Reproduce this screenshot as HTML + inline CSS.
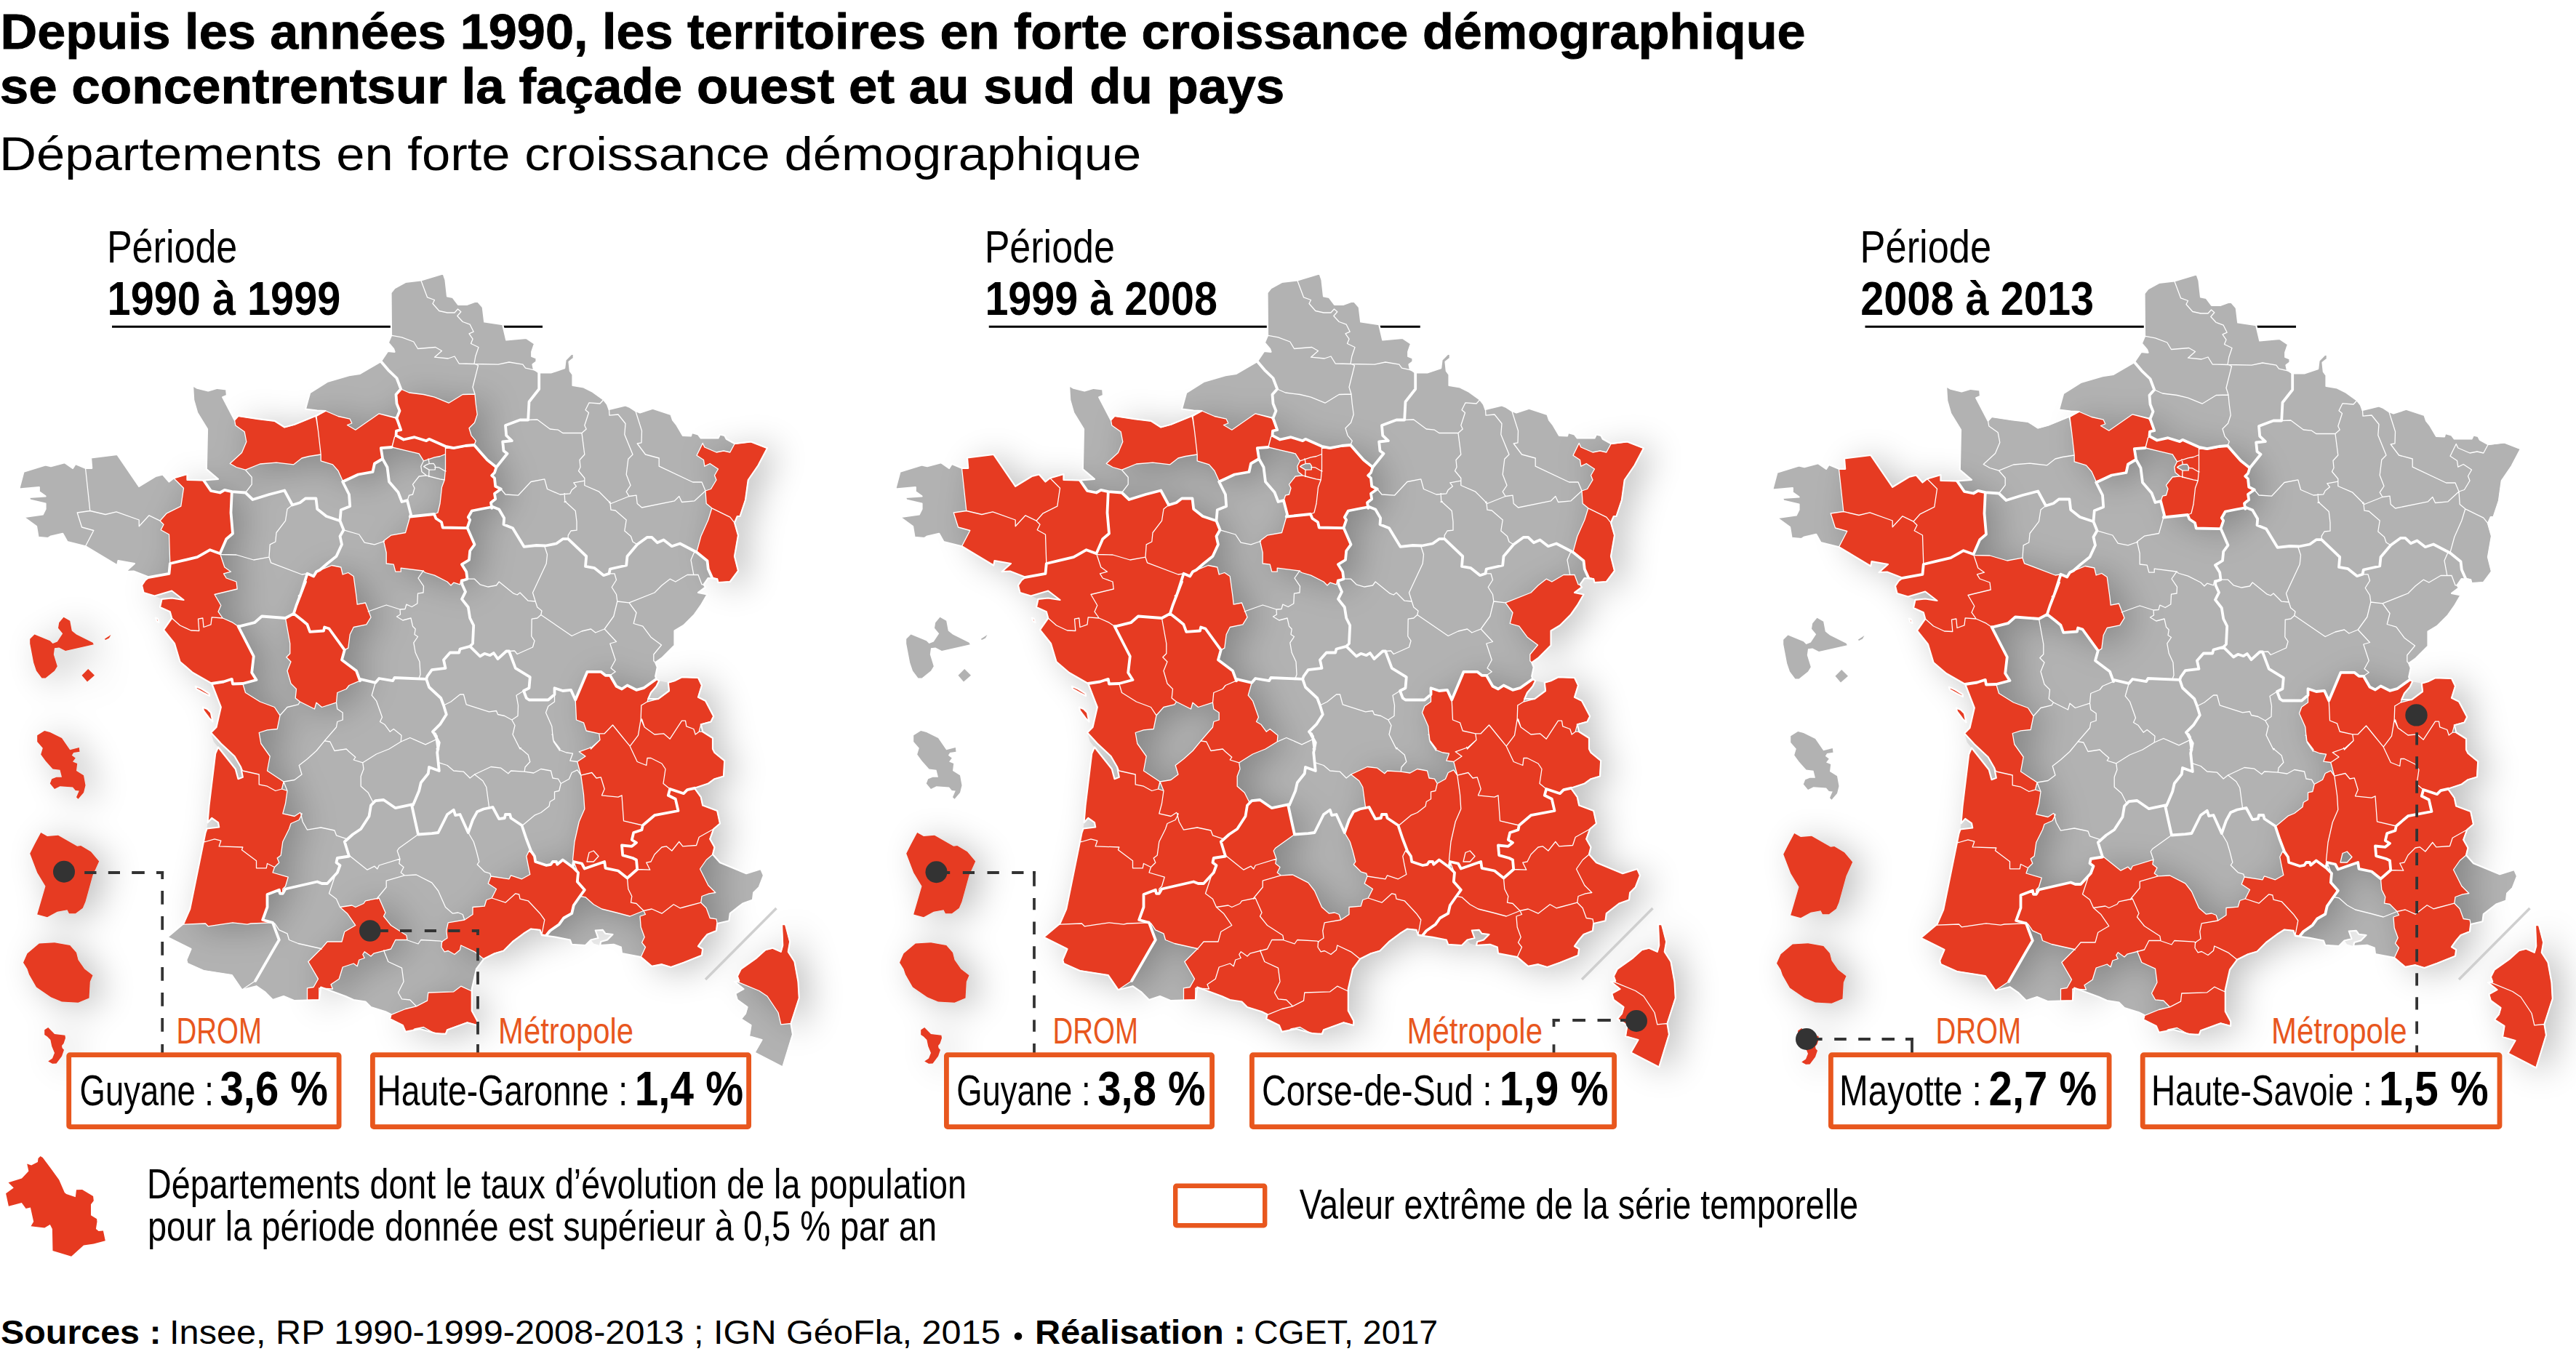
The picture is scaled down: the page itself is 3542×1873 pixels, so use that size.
<!DOCTYPE html>
<html lang="fr"><head><meta charset="utf-8"><title>Départements en forte croissance démographique</title>
<style>html,body{margin:0;padding:0;background:#fff}svg{display:block}text{font-family:"Liberation Sans",sans-serif}</style>
</head><body>
<svg width="3542" height="1873" viewBox="0 0 3542 1873">
<defs>
<filter id="sh2" x="-5%" y="-5%" width="115%" height="115%"><feGaussianBlur in="SourceAlpha" stdDeviation="24"/><feOffset dx="15" dy="6"/><feComponentTransfer><feFuncA type="linear" slope="0.25"/></feComponentTransfer><feMerge><feMergeNode/><feMergeNode in="SourceGraphic"/></feMerge></filter>

<path id="land" d="M212.5,819.5 236.2,812.5 252.5,825 236.2,822.5 222.5,823.8 220,835 233.8,841.2 236.2,850 225,866.2 240,885 247.5,910 265,925 291.2,940 303.8,972.5 297.5,1000 290,1007.5 303.8,1022.5 322.5,1040 331.2,1055 333.8,1068.8 327.5,1071.2 323.8,1057.5 300,1027.5 296.2,1036.2 287.5,1107.5 285.5,1131.2 291.2,1125 300,1131.2 301.2,1137.5 284.5,1139.5 282.5,1145 261.2,1250 252.5,1270 230,1288.8 262.5,1305 256.2,1320 257.5,1325 280,1335 318.8,1341.2 332.5,1361.2 352.5,1356.2 363.8,1363.8 375,1375 390,1370 405,1376.2 438.8,1375 441.2,1357.5 475,1370 486.2,1375 502.5,1377.5 510,1385 530,1391.2 537.5,1395 536.2,1401.2 553.8,1410 557.5,1418.8 577.5,1415 600,1421.2 613,1422 615,1416.2 642.5,1406.2 656.2,1410 656.2,1403.8 648.8,1390 648.8,1360 655,1332.5 665,1318.8 680,1311.2 692.5,1307.5 705,1295 720,1283.8 730,1277.5 742.5,1278.8 745,1286.2 765,1288.8 783.8,1292.5 786.2,1298.8 805,1300 812.5,1292.5 822.5,1290 818.8,1279.5 828.8,1278.8 832.5,1283.8 842.5,1285 835,1292.5 826.2,1295 825,1300 843.8,1298.8 853.8,1302.5 855,1311.2 881.2,1316.2 896.2,1328.8 910,1326.2 922.5,1330 940,1323.8 965,1313.8 966.2,1305 960,1301.2 966.2,1292.5 972.5,1285 985,1280 986.2,1270 1002.5,1266.2 1003.8,1256.2 1021.2,1242.5 1035,1237.5 1036.2,1227.5 1043.8,1220 1050,1203.8 1046.2,1195 1026.2,1201.2 990,1186.2 980,1175 982.5,1165 976.2,1153.8 981.2,1140 990,1132.5 986.2,1115 966.2,1107.5 963.8,1096.2 955,1083.8 973.8,1077.5 982.5,1071.2 995,1067.5 996.2,1046.2 982.5,1035 980,1030 980,1015 966.2,1006.2 963.8,996.2 977.5,992.5 981.2,985 970,963.8 960,958.8 965,942.5 960,932 937.5,931.2 927.5,936.2 918.8,938.8 920,950 905,961.2 891.2,961.2 895,952.5 902.5,943.8 906.2,936.2 902.5,933.8 901.2,930 903.8,917.5 901.2,911.2 910,905 927.5,887.5 927.5,867.5 940,860 955,845 963.8,832.5 972.5,817.5 960,815 970,807.5 967.5,803.8 973.8,795 986.2,796.2 987.5,801.2 1003.8,800 1015,785 1010,765 1015,736.2 1010,718.8 1013.8,710 1017.5,710 1025,687.5 1028.8,660 1042.5,640 1055,616.2 1032.5,607.5 1010,610 998.8,603.8 996.2,598.8 990,597.5 987.5,602.5 963.8,602.5 960,597.5 951.2,595 950,599.5 938.8,598.8 930,583.8 925,577.5 922.5,570 897.5,561.8 880,567.5 873.8,565 866.2,560 860,557.5 837.5,563 835,556.2 830,549.5 815,538.8 802.5,532.5 787.5,530 787.5,515 783.8,510 782.5,497.5 788.8,492.5 788.8,487.5 786.2,486.2 777.5,495 776.2,506.2 757.5,512.5 741.2,512.5 733.8,507.5 732.5,501.2 737.5,497.5 737.5,492.5 731.2,490 731.2,483.8 735,472.5 723.8,465 696.2,467.5 691.2,446.2 666.2,442.5 663.8,422.5 656.2,413.8 642.5,418.8 630,418.8 622.5,408.8 615,407.5 612.5,385 609.5,376.2 578.8,385.5 557.5,388 542.5,396.2 537.5,402.5 538,461.2 533.8,471.2 541.2,480 542.5,483.8 533.2,483 523.8,497 495,513.8 480,516.2 450,525 426.2,540 420,562.5 436.2,564.5 447.5,565 433.8,572 405,583.8 391.2,587.5 377.5,578.8 355,576.2 327.5,572 322.5,577.5 306.2,546.2 312,543.8 311.2,535.5 298.8,533.8 286.2,537.5 271.2,533.8 265,530 266.2,550 271.2,567.5 285,590 283.8,645 300,658.8 280,660.5 257.5,660 257.5,652 238.8,657.5 232.5,662.5 223.8,652.5 213.8,655 191.2,668.8 161.2,625 125,629.5 126.2,643.8 117.5,643.8 103.8,638 100,643.8 88.8,636.2 70,641.2 62.5,639.5 32.5,648.8 26.2,672.5 53.8,670 53.8,676.2 62.5,682.5 40,683.8 41.2,687.5 62.5,692.5 62.5,700 58.8,707.5 32.5,711.2 50,723.8 52.5,738.8 66.2,740 70,737.5 86.2,733.8 92.5,745 117.5,751.2 161.2,777.5 162.5,771.2 185,775 172.5,786.2 183.8,785.5 205,793.8 200,797.5 195,805 197.5,815ZM1076.2,1300 1073.8,1308.8 1062.5,1303.8 1052.5,1306.2 1040,1317.5 1018.8,1332.5 1013.8,1342.5 1016.2,1348.8 1010,1350 1022.5,1360 1011.2,1366.2 1013.8,1375 1027.5,1385 1025,1393.8 1018.8,1401.2 1032.5,1410 1030,1425 1047.5,1430 1037.5,1447.5 1076.2,1467.5 1090,1422.5 1087.5,1407.5 1098.8,1372.5 1097.5,1350 1092.5,1322.5 1083.8,1308.8 1086.2,1295 1080,1271.2 1075,1271.2ZM268.8,943.8 277.5,947.5 287.5,953.8 288,957 280,953 270,947.5ZM278.8,972.5 285,975 290,980 292.5,992.5 287.5,987.5 280,977.5ZM213.8,849.5 217,850.8 218.5,856 215.5,854.5Z"/>
<clipPath id="landclip"><use href="#land"/></clipPath>
<path id="d971" d="M41.2,878.8 47.5,872.5 68.8,881.2 72.5,885 78.8,882.5 86.2,871.2 80,863.8 81.2,856.2 87.5,848.8 96.2,853.8 98.8,867.5 105,872.5 127.5,883.8 128.8,886.2 90,895 81.2,890.5 75,891.2 73.8,900 78.8,916.2 75,922.5 62.5,932.5 57.5,932.5 50,922.5 46.2,911.2 41.2,885Z"/>
<path id="d971b" d="M112.5,928.8 121.2,920 130,928.8 120,937.5Z"/>
<path id="d971c" d="M143.8,878.8 152.5,873 150,877.5 145,880Z"/>
<path id="d972" d="M51.2,1011.2 61.2,1005 68.8,1007 85,1015 96.2,1031.2 108.8,1028 109.5,1033.8 101.2,1035 98.8,1038.8 103.8,1042.5 100,1047.5 106.2,1050 105,1060 115,1066.2 117.5,1080 115,1090 107.5,1098.8 105,1096.2 108.8,1087.5 103.8,1087 100,1082.5 82.5,1081.2 75,1085 68.8,1077.5 71.2,1071.2 77.5,1068.8 85,1068.8 82.5,1058.8 72.5,1057.5 62.5,1046.2 56.2,1037.5 58.8,1028.8 51.2,1020Z"/>
<path id="d973" d="M56.2,1145 65,1150 80,1148.8 106.2,1163.8 111.2,1163 125,1171.2 136.2,1184.5 127.5,1203.8 117.5,1240 113.8,1248.8 103.8,1256.2 95,1256.2 92.5,1251.2 78.8,1253.8 65,1261.2 51.2,1257.5 62.5,1218.8 51.2,1200 41.2,1173.8 47.5,1161.2Z"/>
<path id="d974" d="M53.8,1297.5 75,1296.2 96.2,1300 105,1310 107.5,1320 116.2,1332.5 127.5,1341.2 123.8,1350 122.5,1372.5 107.5,1378.8 85,1377.5 70,1371.2 50,1357.5 40,1340 37.5,1332.5 32,1323.8 37.5,1311.2Z"/>
<path id="d976" d="M61.2,1416.2 66.2,1413 75,1422 89.4,1423.8 90,1427.5 87.5,1435 85,1438 85.6,1441.2 88,1443.8 85,1452.5 77.5,1462.5 72,1462.8 66.2,1459.4 72,1455.6 75,1448 71.2,1438.8 69.4,1430 65,1425.6 61.2,1423Z"/>
<path id="water" d="M906.2,936.2 918.8,938.8 920,950 915,953.8 905,961.2 891.2,961.2 895,952.5 902.5,943.8ZM290,1007.5 303.8,1022.5 322.5,1040 331.2,1055 333.8,1068.8 327.5,1071.2 323.8,1057.5 312.5,1043.8 300,1027.5 293.8,1020ZM212.5,819.5 236.2,812.5 252.5,825 236.2,822.5 222.5,823.8ZM284.5,1139.5 301.2,1137.5 300,1131.2 291.2,1125 285.5,1131.2ZM825,1300 826.2,1295 835,1292.5 842.5,1285 832.5,1283.8 828.8,1278.8 818.8,1279.5 822.5,1290 812.5,1292.5 816.2,1297.5Z"/>
<path id="thin" d="M551.2,535 562.5,540 582.5,542.5 597.5,546.2 617,554.2 636.2,542.5 653,542 654.2,555 656.2,570 652.5,581.2 645,588.8 648,598.8 654.2,606.2 652,612 640,613 623.8,616.2 612.5,613.8 590,603.8 586.2,606.2 570,601.2 555,604.5 544.5,598.8 545,592.5 551.2,591.2 545.5,575 549.5,565 545.5,555 544.5,542.5 551.2,535M544.5,598.8 555,604.5 570,601.2 586.2,606.2 590,603.8 612.5,613.8 612.5,624.5 605,627.5 597.5,628.8 582.5,633.8 576.2,623.8 555,618.8 538.8,615 542.5,601.2 544.5,598.8M966.2,609.5 968.8,615 985,622 995,620 1003.8,622 1010,610.5 1032.5,607.5 1055,616.2 1042.5,640 1028.8,660 1025,687.5 1017.5,710 1010,718.8 1003.8,711.2 978.8,698.8 971.2,692.5 970,675 977.5,672.5 985,660 982.5,653.8 987.5,645 976.2,637.5 968.8,641.2 967.5,632.5 958,626.2 966.2,609.5M978.8,698.8 1003.8,711.2 1010,718.8 1015,736.2 1010,765 1015,785 1003.8,800 987.5,801.2 986.2,796.2 978.8,793.8 973.8,782.5 972.5,771.2 958,758.8 963.8,737.5 973.8,715 978.8,698.8M612.5,616.2 623.8,616.8 640,613.8 652,612 660,621.2 670,632.5 681.2,642.5 680,650 676.2,653.8 680,657.5 681.2,668.8 688.8,672.5 680,678.8 681.2,686.2 675,691.2 676.2,698.8 677.5,697 663.8,699.5 648.8,702.5 643.8,711.2 646.2,715 642.5,725.8 608.8,725.5 607,718 599.5,713 597,707 602,705 605,692.5 607.5,670 611.2,660 612.5,645 612.5,616.2M563.8,710.5 597,707 599.5,713 607,718 608.8,725.5 642.5,726.2 652.5,748.8 646.2,757.5 645,770 635,776.2 641.2,786.2 642.5,796.2 633.8,797.5 632.5,803.8 623.8,801.2 620,805 615,800 597.5,791.2 585,787.5 581.2,785 551.2,781.2 551.2,786.2 543.8,786.2 541.2,776.2 531.2,775 531.2,760 527.5,743.8 537.5,736.2 557.5,732.5 563.8,710.5M807.5,923.8 826.2,923.8 832.5,928.8 838.8,928.8 847.5,943.8 855,947.5 862.5,942.5 875,948.8 885,946.2 902.5,933.8 906.2,936.2 902.5,943.8 895,952.5 891.2,961.2 890,965 881.8,970 881.2,988.8 877.5,1011.2 866.2,1026.2 842.5,997 831.2,1008.8 823.8,1008.8 806.2,1005 802.5,993.8 792.5,990 791.2,962.5 807.5,923.8M881.8,970 890,965 905,961.2 915,953.8 920,950 918.8,938.8 927.5,936.2 937.5,931.2 960,932 965,942.5 960,958.8 970,963.8 981.2,985 977.5,992.5 963.8,996.2 961.2,1006.2 956.2,1010 953.8,1002.5 943.8,998.8 942.5,991.2 937.5,991.2 921.2,1016.2 912.5,1008.8 900,1010 886.2,1000 882.5,988.8 881.2,988.8 881.8,970M823.8,1008.8 825,1017.5 813.8,1027.5 796.2,1033.8 805,1040 793.8,1047.5 798.8,1066.2 813.8,1062.5 820,1070 826.2,1068.8 831.2,1085 827.5,1093.8 850,1096.2 855,1093.8 857.5,1128.8 883.8,1135 900,1121.2 932.5,1115 928.8,1098.8 918.8,1093.8 921.2,1085 912,1077.5 915,1057.5 910,1050 895,1042.5 890,1042.5 888.8,1052.5 876.2,1047.5 866.2,1026.2 855,1012.5 842.5,997 831.2,1008.8 823.8,1008.8M881.2,988.8 886.2,1000 900,1010 912.5,1008.8 921.2,1016.2 937.5,991.2 942.5,991.2 943.8,998.8 953.8,1002.5 956.2,1010 961.2,1006.2 966.2,1006.2 980,1015 982.5,1035 996.2,1046.2 995,1067.5 982.5,1071.2 973.8,1077.5 955,1083.8 945,1086.2 940,1091.2 921.2,1085 912,1077.5 915,1057.5 910,1050 895,1042.5 890,1042.5 888.8,1052.5 876.2,1047.5 866.2,1026.2 877.5,1011.2 881.2,988.8M921.2,1085 940,1091.2 945,1086.2 955,1083.8 963.8,1096.2 966.2,1107.5 986.2,1115 990,1132.5 981.2,1140 961.2,1151.2 957.5,1162.5 938.8,1163.8 933.8,1157.5 923.8,1170 916.2,1163.8 910,1165 900,1175 895,1185 888.8,1186.2 893.8,1196.2 876.2,1195.5 875,1182.5 870,1180 856.2,1176.2 855,1162.5 868.8,1163.8 875,1158.8 868.8,1155 871.2,1145 882.5,1141.2 883.8,1135 900,1121.2 932.5,1115 928.8,1098.8 918.8,1093.8 921.2,1085M798.8,1066.2 813.8,1062.5 820,1070 826.2,1068.8 831.2,1085 827.5,1093.8 850,1096.2 855,1093.8 857.5,1128.8 883.8,1135 882.5,1141.2 871.2,1145 868.8,1155 875,1158.8 868.8,1163.8 855,1162.5 856.2,1176.2 870,1180 875,1182.5 876.2,1195.5 862.5,1207.5 850,1197.5 832.5,1193.8 831.2,1185 803.8,1194.5 800,1187.5 788.8,1185 787.5,1182.5 790,1157.5 796.2,1130 803.8,1112.5 802.5,1092.5 798.8,1066.2M788.8,1185 800,1187.5 803.8,1194.5 831.2,1185 832.5,1193.8 850,1197.5 862.5,1207.5 863.8,1222.5 868.8,1232.5 867.5,1241.2 875,1242.5 885,1252.5 866.2,1260 847.5,1255 827.5,1250 816.2,1243.8 805,1233.8 797.5,1232.5 803.8,1223.8 795,1212.5 793.8,1197.5 788.8,1185M876.2,1195.5 893.8,1196.2 888.8,1186.2 895,1185 900,1175 910,1165 916.2,1163.8 923.8,1170 933.8,1157.5 938.8,1163.8 957.5,1162.5 961.2,1151.2 981.2,1140 976.2,1153.8 982.5,1165 980,1175 971.2,1182.5 962.5,1195 973.8,1217.5 983.8,1227.5 975,1228.8 965,1232.5 963.8,1241.2 940,1247.5 935,1248.8 926.2,1243.8 910,1256.2 896.2,1250 885,1252.5 875,1242.5 867.5,1241.2 868.8,1232.5 863.8,1222.5 862.5,1207.5 876.2,1195.5M885,1252.5 896.2,1250 910,1256.2 926.2,1243.8 935,1248.8 940,1247.5 963.8,1241.2 971.2,1248.8 976.2,1262.5 985,1263.8 986.2,1270 985,1280 972.5,1285 966.2,1292.5 960,1301.2 966.2,1305 965,1313.8 940,1323.8 922.5,1330 910,1326.2 896.2,1328.8 881.2,1316.2 887.5,1302.5 882.5,1296.2 886.2,1288.8 881.2,1275 880,1260 887.5,1257.5 885,1252.5M727.5,1170 735,1177.5 736.2,1185 751.2,1190 757.5,1188.8 760,1185 765,1185 766.2,1188.8 773.8,1182.5 787.5,1192.5 795,1200 793.8,1212.5 803.8,1223.8 797.5,1232.5 788.8,1245 786.2,1256.2 775,1262.5 768.8,1271.2 756.2,1280 751.2,1286.2 745,1285 748.8,1265 742.5,1256.2 726.2,1238.8 715,1236.2 713.8,1230 708.8,1228.8 695,1241.2 676.2,1235 682.5,1222.5 671.2,1215 675,1205 700,1208.8 702.5,1203.8 717.5,1208.8 728.8,1202.5 726.2,1190 723.8,1177.5 727.5,1170M676.2,1235 695,1241.2 708.8,1228.8 713.8,1230 715,1236.2 726.2,1238.8 742.5,1256.2 748.8,1265 745,1285 742.5,1278.8 730,1277.5 720,1283.8 705,1295 692.5,1307.5 680,1311.2 665,1318.8 658.8,1313.8 652.5,1308.8 633.8,1300 632.5,1306.2 625,1312.5 616.2,1307.5 611.2,1308.8 607,1302.5 607.5,1295 615,1290 613.8,1280 616.2,1268.8 638.8,1265 650,1257.5 650,1247.5 666.2,1246.2 668.8,1237.5 676.2,1235M322.5,577.5 327.5,572 355,576.2 377.5,578.8 391.2,587.5 405,583.8 433.8,572 435,576.2 437.5,592.5 441.2,625 425,627.5 415,630 403.8,638.8 380,636.2 357.5,638 337.5,646.2 325,642.5 316.2,637.5 332.5,622.5 338.8,607.5 336.2,593.8 323.8,585 322.5,577.5M435,572.5 447.5,565 465,572.5 481.2,576.2 483.8,582 477.5,584.5 488.8,591.2 521.2,568.8 542.5,573.8 545.5,577.5 551,591 545,592.5 544.5,599 542.5,601 539,615 524,616 526,631 515,637.5 512.5,649 492.5,652.5 471.2,661.2 465,647.5 457.5,638.8 441.2,633.8 441.2,625 437.5,592.5 435,572.5M238.8,657.5 257.5,652 257.5,660 280,660.5 290,675 302.5,677.5 308.8,673.8 318.8,676.2 317.5,705 320,733.8 311.2,741.2 302.5,761.2 288.8,756.2 271.2,766.2 250,771.2 233.8,775 232.5,735 221.2,728.8 225,721.2 220,716.2 228.8,706.2 248.8,696.2 252.5,671.2 238.8,657.5M233.8,775 250,771.2 271.2,766.2 288.8,756.2 302.5,761.2 303.8,765 308.8,780 317.5,786.2 307.5,788.8 311.2,795 325,800 326.2,810 295,817.5 303.8,832.5 300,841.2 306.2,850 291.2,848.8 290,858.8 280,862.5 278.8,850 272.5,851.2 273.8,867.5 262.5,867 247.5,860 236.2,850 212.5,850 175,825 175,785 205,793.8 232.5,788.8 233.8,775M236.2,850 247.5,860 262.5,867 273.8,867.5 272.5,851.2 278.8,850 280,862.5 290,858.8 291.2,848.8 306.2,850 320,856.2 327.5,861.2 348.8,902.5 346.2,925 352.5,935 333.8,940 320,940.5 318.8,933.8 307.5,937.5 291.2,940 262.5,930 237.5,910 220,866.2 236.2,850M291.2,940 307.5,937.5 318.8,933.8 320,940.5 333.8,940 337.5,952.5 357.5,965 377.5,972.5 385,983.8 381.2,1002.5 367.5,1003.8 356.2,1007.5 358.8,1022.5 371.2,1040 367.5,1060 390,1075 387.5,1085 378.8,1087.5 367.5,1081.2 356.2,1078.8 356.2,1065 333.8,1060 331.2,1055 322.5,1040 303.8,1022.5 290,1007.5 275,1000 262.5,950 275,935 291.2,940M392.5,850 403.8,843.8 415,852.5 422.5,858.8 426.2,868.8 445,867.5 446.2,862.5 452.5,864.5 473.8,893.8 470,907.5 490,922.5 495,936.2 480,942.5 476.2,947.5 463.8,952.5 462.5,966.2 442.5,972.5 435,966.2 432.5,975 412.5,965 406.2,960 407.5,947.5 400,940 395,922.5 400,910 393.8,903.8 398.8,898.8 398.8,885 392.5,850M422.5,788.8 431.2,792.5 435,786.2 456.2,777.5 468.8,780 471.2,790 478.8,787.5 486.2,792.5 490,820 491.2,831.2 502.5,829 510,848.8 503.8,858.8 486.2,862.5 481.2,872.5 478.8,891.2 473.8,893.8 452.5,864.5 446.2,862.5 445,867.5 426.2,868.8 422.5,858.8 415,852.5 403.8,843.8 407.5,832.5 420,800 422.5,788.8M290,1007.5 303.8,1022.5 322.5,1040 331.2,1055 333.8,1060 356.2,1065 356.2,1078.8 367.5,1081.2 378.8,1087.5 387.5,1085 395,1087.5 392.5,1105 388.8,1118.8 405,1122.5 412.5,1117.5 415,1120 411.2,1127.5 400,1132.5 397.5,1140 388.8,1157.5 386.2,1176.2 381.2,1180 383.8,1186.2 377.5,1192.5 367.5,1187.5 366.2,1193.8 352.5,1193.8 352.5,1183.8 332.5,1168.8 333.8,1165 301.2,1163.8 303.8,1156.2 295,1153.8 282.5,1157.5 262.5,1157.5 270,1007.5 290,1007.5M282.5,1157.5 295,1153.8 303.8,1156.2 301.2,1163.8 333.8,1165 332.5,1168.8 352.5,1183.8 352.5,1193.8 366.2,1193.8 367.5,1187.5 377.5,1192.5 375,1200 396.2,1206.2 392.5,1218.8 388.8,1222.5 388.8,1228.8 385,1228.8 383.8,1223.8 367.5,1230 367.5,1247.5 361.2,1265 375,1268.8 345,1270 340,1271.2 320,1268.8 286.2,1273.8 282.5,1270 252.5,1271.2 240,1275 250,1195 270,1157.5 282.5,1157.5M467.5,1247.5 483.8,1245 488.8,1247.5 500,1242.5 502.5,1238.8 521.2,1235 530,1255 527.5,1260 537.5,1272.5 558.8,1286.2 560,1292.5 543.8,1292.5 537.5,1305 513.8,1311.2 510,1315 501.2,1308.8 498.8,1312.5 501.2,1317.5 493.8,1320 491.2,1328.8 486.2,1325 471.2,1330 466.2,1346.2 455,1353.8 457.5,1360 438.8,1358.8 438.8,1375.5 422.5,1375.5 422.5,1358.8 431.2,1357.5 437.5,1346.2 423.8,1322.5 442.5,1303.8 450,1295 470,1295 473.8,1281.2 488.8,1272.5 477.5,1256.2 467.5,1247.5M240,1275 252.5,1271.2 282.5,1270 286.2,1273.8 320,1268.8 340,1271.2 345,1270 375,1268.8 383.8,1292.5 375,1307.5 351.2,1348.8 332.5,1361.2 318.8,1341.2 280,1335 257.5,1325 256.2,1320 262.5,1305 230,1288.8 240,1275M536.2,1396.2 557.5,1387.5 572.5,1383.8 587.5,1376.2 588.8,1365 623.8,1363.8 633.8,1356.2 647.5,1362.5 670,1362.5 670,1410 656.2,1410 642.5,1406.2 615,1416.2 612.5,1421.2 600,1422.5 582.5,1412.5 570,1415 565,1420 555,1420 536.2,1402.5 536.2,1396.2M1075,1271.2 1080,1271.2 1086.2,1295 1083.8,1308.8 1092.5,1322.5 1097.5,1350 1098.8,1372.5 1090,1400 1087.5,1407.5 1073.8,1408.8 1070,1392.5 1055,1370 1043.8,1362.5 1016.2,1351.2 1013.8,1342.5 1018.8,1332.5 1040,1317.5 1052.5,1306.2 1062.5,1303.8 1073.8,1308.8 1076.2,1300 1075,1271.2M1016.2,1351.2 1010,1350 1022.5,1360 1011.2,1366.2 1013.8,1375 1027.5,1385 1025,1393.8 1018.8,1401.2 1032.5,1410 1030,1425 1047.5,1430 1037.5,1447.5 1076.2,1467.5 1082.5,1447.5 1090,1422.5 1087.5,1407.5 1073.8,1408.8 1070,1392.5 1055,1370 1043.8,1362.5 1016.2,1351.2M578.8,385.5 587.5,408.8 597.5,412.5 595,417.5 603.8,427.5 615,430 625,430 629.5,425 633.8,428.8 628.8,434.5 636.2,442.5 646.2,446.2 651.2,456.2 645,458.8 650,466.2 647.5,472.5 658,477.5 653.8,490 652,500.5M538.7,461.7 537.5,461.2 552.5,463.8 568.8,470 574.5,479.5 598.8,477.5 607.5,482.5 597.5,491.2 616.2,493 625,490 631.2,500 652,500.5M652,500.5 685,501.2 700,498 718.8,501.2 722.5,506.2 740,510 741.2,512.5M652,500.5 657.5,502.5 652.5,522.5 650,532.5 653,542M726.2,577.5 738.8,577 756.2,590 767.5,591.2 773.8,595.5 800,595.5M830,549.5 825,555 810,553.8 805,563.8 809.5,567.5 803.8,585 806.2,590 800,595.5M800,595.5 803.8,625 797,632.5 798,642.5 795.5,647.5 803.8,657.5 803.8,661.2M837.5,563 838,571.2 850,570 860,582.5 858.8,597.5 870,625 863.8,631.2 861.2,652.5 867,667.5 861.2,676.2 865,682.5M873.8,565 882.5,592.5 882,608.8 876.2,610 887.5,625 906.2,630 906.2,641.2 952.5,663 965,663 970,675M688.8,672.5 695,680 712.5,681.2 730,662.5 748.8,658.8 752.5,672.5 770,680 783.8,678.8 786.2,673.8 792.5,668.8 788.8,663.8 803.8,661.2M803.8,661.2 803.8,667.5 823.8,676.2 840,692.5 865,682.5M865,682.5 875,681.2 876.2,692.5 882.5,698 927.5,688.8 933.8,682.5 937.5,690.5 955,688.8 970,675M582.5,633.8 578.8,641.2 580,648.8 586.2,653.8 590,655 605,658.8 611.2,660M586.2,653.8 576.2,655 567.5,666.2 570,671.2 567.5,680 562.5,681.2 560,688.8 560.9,688.6M776,690.1 777.5,690 791.2,702.5 793,717.5 793,729.2 785,730 781.2,736.2 781.2,741.2M837.6,691.2 838.8,690 840,701.2 846.2,702 861.2,715 858.8,730 867.5,737.5 870,745 876.2,748.8M748.9,749.7 748.8,751.2 752.5,762.5 751.2,775 732.5,815 736.2,827M642.5,796.2 652.5,796.2 660,803.8 671.2,807 682.5,805 686.2,800 706.2,816.2 711.2,818 715,815 726.2,826.2 736.2,827M736.2,827 738.8,835 745,840 743.8,845.5M743.8,845.5 738.8,850 731.2,851.2 730.8,875 735,881.2 732.5,890 711.2,899.5 707.5,895 700,895.5M743.8,845.5 786.2,874.5 800,868 812.5,865 818.8,870 831.2,865M837.5,788.8 845,788.8 847.5,797.5 841.2,807.5 847.5,817.5 848.8,827M848.8,827 843.8,847.5 831.2,865M848.8,827 865,828.8 900,815 910,805 921.2,796.2 928.8,800 945,790.5 960,790.5M955.8,757.4 953.8,761.2 950,770 953.8,790.5M960,790.5 965,803.8 968.3,803.8M865,828.8 875,842.5 871.2,857.5 883.8,861.2 895,876.2 909.5,887 898.8,900 898.8,908.8 901.2,911.2M831.2,865 847.5,882.5 838.8,885 846.2,907.5 840,918.8 846.2,923.8 838.8,928.8M582.2,784.7 581.2,786.2 575,795 582.5,806.2 582,815 574.5,816.2 573.8,830 566.2,834.5 558.8,831.2 557,837.5 550,838M550,838 531.2,832 508.8,840 506.2,841M550,838 550.5,845 545.5,848 553.8,853 565,850 567.5,861.2 571.2,865 570,872.5 574.5,875.5 568.8,883.8 571.2,897.5 577,910 578,927.5 576.2,932.5 576.1,934.2M516.2,938.8 511.2,956.2 517.5,963.8 525.5,986.2 522.5,992.5 528.8,996.2 536.2,1006.2 541.2,1002.5 552,1011.2 551.2,1020M551.2,1020 563.8,1014.5 585,1023.8 601.2,1016.2 600.3,1016.7M551.2,1020 535,1030M610,970 620,965 632.5,955 637.5,955 641.2,968.8 672.5,978.8 682.5,977.5 684.5,982.5 693.8,984.5 703.8,990M720,950 710,956.2 712.5,970 712,984.5 703.8,990M703.8,990 708,997.5 705,1010 715,1030 716.2,1028.5M762.5,955 762.5,965 753.8,971.2 750.5,980 758.8,998.8 760.5,1017.5 770,1030 769.2,1032.2M823.8,1008.8 825,1017.5 812.5,1030 811.6,1027.4M551.2,1020 535,1030 517.5,1037 498.8,1048.8 486.2,1045 488.8,1041.2 480,1033.8M498.8,1048.8 500,1057.5 496.2,1067.5 496.2,1081.2 506.2,1090 512.5,1102.5 514.3,1104.3M601.9,1049 603.8,1048.8 615,1052.5 623.8,1060 637.5,1061.2 646.2,1070 652.5,1065M652.5,1065 675,1054.5 688.8,1056.2 698.8,1063.8 702.5,1060 721.2,1061.2M705,1010 713.8,1027.5 726.2,1038 728.8,1047.5 722,1055 721.2,1061.2M721.2,1061.2 733.8,1063 743.8,1057.5 757.5,1060 760,1070 767.5,1071.2 771.2,1077.5 782.5,1071.2 786.2,1062.5 793.8,1058.8 798.8,1066.2M759,1010.1 760,1010 761.2,1020 768.8,1031.2 778.8,1035 787.5,1036.2 783.8,1046.2 793.8,1047.5M652.5,1065 663.8,1073.8 668.8,1082.5 672.5,1110 672.8,1111.7M771.2,1077.5 768.8,1087.5 762.5,1088.8 762.5,1098.8 756.2,1102.5 755,1108.8 743.8,1117.5 735,1121.2 720,1133.8 716.8,1135.3M643.8,1145 651.2,1157.5 655,1170 658.8,1185 656.2,1188.8 666.2,1198.8 673.8,1201.2 675,1205M556.2,1203.8 572.5,1203 593.8,1213.8 602.5,1225 612.5,1247.5 622.5,1256.2 630,1255 636.2,1257.5 638.8,1265M575,1147.5 548.8,1166.2 546.2,1170 550,1181.2M550,1181.2 521.2,1190 518.8,1195 515,1191.2 505,1196.2 480,1176.2 478.9,1176.6M550,1181.2 548.8,1187.5 555,1192.5 551.2,1200 556.2,1203.8 531.2,1211.2 531.2,1220 518.8,1235 519.1,1236.3M558.8,1292.5 575,1298 578.8,1292.5 606.2,1294.2 608.2,1295.4M527.9,1306.7 528.8,1310 533.8,1322.5 552.5,1331.2 555,1350M810,1172.5 816.2,1170 823,1177.5 816.2,1185 807,1185 810,1172.5M117.5,643.8 123.8,702.5M123.8,702.5 106.2,705 112.5,725 128.8,729.5 117.5,751.2M123.8,702.5 145,707.5 160,703.8 191.2,715 191.2,723.8 205,708.8 220,716.2M316.2,637.5 325,642.5 337.5,646.2 346.2,656.2 346.2,666.2 337.5,677.5M402,694.5 395,700 392.5,716.2 380,732.5 378.8,745 371.2,748.8 370,766.2M303.7,762.1 302.5,762.5 325,763 348.8,770 370,766.2M370,766.2 372.5,773.8 415,790 422.5,788.8M472.5,728.8 493.8,735 501.2,746.2 515,748.8 526.2,745 528.5,744.5M447.5,565 465,572.5 481.2,576.2 483.8,582 477.5,584.5 488.8,591.2 521.2,568.8 542.5,574.5 543.5,573.7M412.5,965 410,968.8 395,972.5 385,983.8M462.5,966.2 463.8,975 471.2,980 471.2,990 463.8,992.5 462.5,1000 446.2,1018.8M446.2,1018.8 435,1032.5 422.5,1043.8 411.2,1052.5 415,1065 405,1072.5 390,1075M480,1033.8 476.2,1030 460,1032.5 453.8,1020 446.2,1018.8M390,1075 395,1087.5 392.5,1105 388.8,1118.8 405,1122.5 412.5,1117.5 415,1120M415,1118.8 413.8,1120 416.2,1130 422.5,1141.2 441.2,1138 460,1142 462.5,1148.8 477.5,1153.8 478.2,1154.6M458.4,1204.7 460,1206.2 452.5,1228.8 462.5,1236.2 467.5,1247.5M374.8,1270.5 377.5,1269.5 383.8,1278.8 395,1283.8 397.5,1292.5 410,1297.5 441.2,1304.5 442.1,1305.4M555,1350 547.5,1365 552.5,1373.8 563.8,1375 572.5,1383.8M377.5,1192.5 375,1200 396.2,1206.2 392.5,1218.8M776.1,678.7 776.2,679.5 776.8,690.5 778.2,689.5M588.9,630.8 589.3,631.9 590.2,637.7M590.2,637.7 596.3,637.5 598.6,641.2 598.2,645.9 590,646.1 582.6,641.6 585.4,639.6 590.2,637.7M597.7,642.3 598.6,642.4 603.3,642.8 611.8,647.8 613.1,647.9M590,646.1 589.6,655.6 590,654.2"/>
<path id="thick" d="M523.8,497 533.8,508.8 545.5,520 551.2,535 544.5,542.5 545.5,555 549.5,565 545.5,575 551.2,591.2 545,592.5 544.5,598.8M544.5,598.8 555,604.5 570,601.2 586.2,606.2 590,603.8 612.5,613.8 623.8,616.2 640,613 652,612 660,621.2 670,632.5 682.5,642.5M741.2,512.5 741.2,535 727.5,552.5 726.2,577.5 715,577.5 695,585 696.2,598.8 703.8,606.2 691.2,607.5 692.5,620 697.5,623.8 682.5,642.5M538.8,615 523.8,616.2 526.2,631.2 532.5,642.5 535,662.5 547.5,677 552.5,690 560,688.2 565,707.5 563.8,710.5 597,707 599.5,713 607,718 608.8,725.5 642.5,726.2M682.5,642.5 680,650 676.2,653.8 680,657.5 681.2,668.8 688.8,672.5 680,678.8 681.2,686.2 675,691.2 676.2,698.8 677.5,697 663.8,699.5 648.8,702.5 643.8,711.2 646.2,715 642.5,725.8 652.5,748.8 646.2,757.5 645,770 635,776.2 641.2,786.2 642.5,796.2 635,798.8 635.5,803.8 640,813.8 635,823.8 643.8,835 646.2,850 651.2,860 650,885 646.2,888.8M646.2,888.8 660,902.5 666.2,898.8 673.8,901.2 678.8,898 684.5,906.2 696.2,895.5 700,895.5 708.8,918.8 728.8,931.2 727.5,946.2 720,950 723.8,960 727.5,962.5 753.8,962.5 762.5,955 762.5,946.2 773.8,950 785,948.8 791.2,962.5 807.5,923.8 826.2,923.8 832.5,928.8 838.8,928.8 847.5,943.8 855,947.5 862.5,942.5 875,948.8 885,946.2 902.5,933.8M646.2,888.8 632.5,892.5 631.2,897.5 618.8,897.5 610,907.5 612.5,918.8 593.8,921.2 587.5,930 586.2,933.8M586.2,933.8 542.5,932 540,936.2 521.2,933 516.2,938.8 495,933.8 495,936.2M586.2,933.8 590,945 606.2,960 610,970 613.8,982.5 605,996.2 595,1006.2 600,1012.5 602.5,1030 601.4,1029.8M677.5,697 686.2,700.5 693.2,712.5 692.5,721.2 705,726.2 720.5,751.8 737.5,750 750,750.5 765,747.5 773.8,741.2 781.2,741.2 806.2,765 805,778.8 817.5,781.2 830,791.2 837.5,788.8 838.8,782.5 861.2,777.5 862.5,765 876.2,748.8 890,738.8 896.2,738.8 903.8,746.2 912.5,742.5 923.8,751.2 935,747.5 958,759.5 972.5,771.2 973.8,782.5 978.8,793.8M598.4,1009.3 597.5,1010 603.8,1021.2 601.2,1035 603.8,1060 590,1055 588.8,1063.8 578.8,1076.2 576.2,1087.5 568.8,1105M568.8,1105 566.2,1107.5 570,1125 575,1147.5 593.8,1146.2 602.5,1145 615,1120 623.8,1113.8 626.2,1121.2 632.5,1120 643.8,1145 650,1127.5 656.2,1116.2 665,1112.5 677.5,1110 686.2,1126.2 693.8,1125 695,1120 701.2,1120 702.5,1125 717.5,1135 723.8,1153.8 730,1170 735,1177.5 736.2,1185 751.2,1190 757.5,1188.8 760,1185 765,1185 766.2,1188.8 773.8,1182.5 787.5,1192.5M787.5,1192.5 788.8,1185 800,1187.5 803.8,1194.5 831.2,1185 832.5,1193.8 850,1197.5 862.5,1207.5 876.2,1195.5 875,1182.5 870,1180 856.2,1176.2 855,1162.5 868.8,1163.8 875,1158.8 868.8,1155 871.2,1145 882.5,1141.2 883.8,1135 900,1121.2 932.5,1115 928.8,1098.8 918.8,1093.8 921.2,1085 940,1091.2 945,1086.2 955,1083.8M787.5,1192.5 795,1200 793.8,1212.5 803.8,1223.8 797.5,1232.5 788.8,1245 786.2,1256.2 775,1262.5 768.8,1271.2 756.2,1280 751.2,1286.2M280,660.5 290,675 302.5,677.5 308.8,673.8 318.8,676.2M318.8,676.2 317.5,705 320,733.8 311.2,741.2 302.5,761.2 288.8,756.2 271.2,766.2 250,771.2 233.8,775 232.5,788.8 205,793.8M318.8,676.2 337.5,677.5 347.5,687 370,680 391.2,674.5 402,694.5 412.5,691.2 420,685.5 434.5,685.5 436.2,700 448.8,710 467.5,716.2M467.5,716.2 468.8,701.2 481.2,696.2 480,680 471.2,662.5 492.5,652.5 512.5,649 515,637.5 526,631M467.5,716.2 472.5,728.8 467.5,737.5 470,748.8 462.5,765 450,775 440,783.8 435,786.2 431.2,792.5 422.5,788.8 412.5,820 411.6,819.6M420,800 407.5,832.5 403.8,843.8M403.8,843.8 392.5,850 360,847.5 350,856.2 330,861.2 327.5,861.2 348.8,902.5 346.2,925 352.5,935 333.8,940 320,940.5 318.8,933.8 307.5,937.5 291.2,940M403.8,843.8 415,852.5 422.5,858.8 426.2,868.8 445,867.5 446.2,862.5 452.5,864.5 473.8,893.8 470,907.5 490,922.5 495,936.2M568.1,1106.8 567.5,1106.2 543.8,1111.2 527.5,1100 516.2,1101.2 510,1107.5 507.5,1122.5 496.2,1140 485,1147.5 473.8,1157.5 480,1177.5 463.8,1180 462.5,1186.2 467.5,1190 463.8,1200 450,1215 442.5,1215 436.2,1212.5 392.5,1222.5 388.8,1228.8 385,1228.8 383.8,1223.8 367.5,1230 367.5,1247.5 361.2,1265 375,1268.8 383.8,1292.5 375,1307.5 351.2,1348.8"/>
</defs>
<rect width="3542" height="1873" fill="#fff"/>
<g stroke="#000" stroke-width="3"><path d="M154,449.25H746"/><path d="M1359.75,449.25H1952.75"/><path d="M2564.5,449.25H3157"/></g>

<g transform="translate(0,0)">
<use href="#water" fill="#e9e9e9"/>
<g fill="#b2b2b2"><use href="#land"/></g>
<g filter="url(#sh2)" fill="#e63a20"><path d="M1016.2,1351.2 1043.8,1362.5 1055,1370 1070,1392.5 1073.8,1408.8 1087.5,1407.5 1098.8,1372.5 1097.5,1350 1092.5,1322.5 1083.8,1308.8 1086.2,1295 1080,1271.2 1075,1271.2 1076.2,1300 1073.8,1308.8 1062.5,1303.8 1052.5,1306.2 1040,1317.5 1018.8,1332.5 1013.8,1342.5 1016.2,1348.8 1015.6,1348.9ZM968.8,615 966.2,609.5 958,626.2 967.5,632.5 968.8,641.2 976.2,637.5 987.5,645 982.5,653.8 985,660 977.5,672.5 970,675 971.2,692.5 978.8,698.8 973.8,715 963.8,737.5 958,758.8 972.5,771.2 973.8,782.5 978.8,793.8 986.2,796.2 987.5,801.2 1003.8,800 1015,785 1010,765 1015,736.2 1010,718.8 1013.8,710 1017.5,710 1025,687.5 1028.8,660 1042.5,640 1055,616.2 1032.5,607.5 1010,610.5 1003.8,622 995,620 985,622ZM787.5,1192.5 773.8,1182.5 766.2,1188.8 765,1185 760,1185 757.5,1188.8 751.2,1190 736.2,1185 735,1177.5 727.5,1170 723.8,1177.5 728.8,1202.5 717.5,1208.8 702.5,1203.8 700,1208.8 675,1205 671.2,1215 682.5,1222.5 676.2,1235 668.8,1237.5 666.2,1246.2 650,1247.5 650,1257.5 638.8,1265 616.2,1268.8 613.8,1280 615,1290 607.5,1295 607,1302.5 611.2,1308.8 616.2,1307.5 625,1312.5 632.5,1306.2 633.8,1300 652.5,1308.8 665,1318.8 680,1311.2 692.5,1307.5 705,1295 720,1283.8 730,1277.5 742.5,1278.8 745,1285 751.2,1286.2 756.2,1280 768.8,1271.2 775,1262.5 786.2,1256.2 788.8,1245 797.5,1232.5 805,1233.8 816.2,1243.8 827.5,1250 866.2,1260 885,1252.5 887.5,1257.5 880,1260 881.2,1275 886.2,1288.8 882.5,1296.2 887.5,1302.5 881.2,1316.2 896.2,1328.8 910,1326.2 922.5,1330 940,1323.8 965,1313.8 966.2,1305 960,1301.2 966.2,1292.5 972.5,1285 985,1280 986.2,1270 985,1263.8 976.2,1262.5 971.2,1248.8 963.8,1241.2 965,1232.5 975,1228.8 983.8,1227.5 973.8,1217.5 962.5,1195 971.2,1182.5 980,1175 982.5,1165 976.2,1153.8 981.2,1140 990,1132.5 986.2,1115 966.2,1107.5 963.8,1096.2 955,1083.8 973.8,1077.5 982.5,1071.2 995,1067.5 996.2,1046.2 982.5,1035 980,1030 980,1015 966.2,1006.2 961.2,1006.2 963.8,996.2 977.5,992.5 981.2,985 970,963.8 960,958.8 965,942.5 960,932 937.5,931.2 927.5,936.2 918.8,938.8 920,950 905,961.2 890,965 895,952.5 902.5,943.8 906.2,936.2 902.5,933.8 885,946.2 875,948.8 862.5,942.5 855,947.5 847.5,943.8 838.8,928.8 832.5,928.8 826.2,923.8 807.5,923.8 791.2,962.5 792.5,990 802.5,993.8 806.2,1005 823.8,1008.8 825,1017.5 812.5,1030 811.9,1028.2 796.2,1033.8 805,1040 793.8,1047.5 798.8,1066.2 802.5,1092.5 803.8,1112.5 796.2,1130 790,1157.5 787.5,1182.5 794.7,1199.7ZM316.2,637.5 325,642.5 337.5,646.2 357.5,638 380,636.2 403.8,638.8 415,630 425,627.5 441.2,625 441.2,633.8 457.5,638.8 465,647.5 471.2,661.2 492.5,652.5 512.5,649 515,637.5 526,631 524,616 538.8,615 576.2,623.8 582.5,633.8 597.5,628.8 605,627.5 612.5,624.5 612.5,645 611.2,660 607.5,670 605,692.5 602,705 597,707 563.8,710.5 557.5,732.5 537.5,736.2 527.5,743.8 531.2,760 531.2,775 541.2,776.2 543.8,786.2 551.2,786.2 551.2,781.2 581.2,785 585,787.5 597.5,791.2 615,800 620,805 623.8,801.2 632.5,803.8 633.8,797.5 642.5,796.2 641.2,786.2 635,776.2 645,770 646.2,757.5 652.5,748.8 642.4,726 646.2,715 643.8,711.2 648.8,702.5 676,697.3 675,691.2 681.2,686.2 680,678.8 688.8,672.5 681.2,668.8 680,657.5 676.2,653.8 680,650 681.2,642.5 670,632.5 652,612 654.2,606.2 648,598.8 645,588.8 652.5,581.2 656.2,570 653,542 636.2,542.5 617,554.2 597.5,546.2 582.5,542.5 562.5,540 551.2,535 544.5,542.5 545.5,555 549.5,565 544.8,576.7 542.8,574.2 521.2,568.8 488.8,591.2 477.5,584.5 483.8,582 481.2,576.2 465,572.5 447.5,565 434.1,573 433.8,572 405,583.8 391.2,587.5 377.5,578.8 355,576.2 327.5,572 322.5,577.5 323.8,585 336.2,593.8 338.8,607.5 332.5,622.5ZM623.8,1363.8 588.8,1365 587.5,1376.2 572.5,1383.8 557.5,1387.5 537.3,1395.7 536.2,1401.2 553.8,1410 557.5,1418.8 568.2,1416.8 570,1415 582.5,1412.5 595.6,1420 600,1421.2 607.9,1421.7 612.5,1421.2 615,1416.2 642.5,1406.2 656.2,1410 656.2,1403.8 648.8,1390 648.8,1362.5 647.5,1362.5 633.8,1356.2ZM441.2,1357.5 445.6,1359.2 457.5,1360 455,1353.8 466.2,1346.2 471.2,1330 486.2,1325 491.2,1328.8 493.8,1320 501.2,1317.5 498.8,1312.5 501.2,1308.8 510,1315 513.8,1311.2 537.5,1305 543.8,1292.5 560,1292.5 558.8,1286.2 537.5,1272.5 527.5,1260 530,1255 521.2,1235 502.5,1238.8 500,1242.5 488.8,1247.5 483.8,1245 467.5,1247.5 477.5,1256.2 488.8,1272.5 473.8,1281.2 470,1295 450,1295 442.5,1303.8 423.8,1322.5 437.5,1346.2 431.2,1357.5 422.5,1358.8 422.5,1375.5 438.8,1375 438.8,1358.8 441,1358.9ZM407.5,832.5 403.8,843.8 392.5,850 398.8,885 398.8,898.8 393.8,903.8 400,910 395,922.5 400,940 407.5,947.5 406.2,960 412.5,965 432.5,975 435,966.2 442.5,972.5 462.5,966.2 463.8,952.5 476.2,947.5 480,942.5 495,936.2 490,922.5 470,907.5 473.8,893.8 478.8,891.2 481.2,872.5 486.2,862.5 503.8,858.8 510,848.8 502.5,829 491.2,831.2 486.2,792.5 478.8,787.5 471.2,790 468.8,780 456.2,777.5 435,786.2 431.2,792.5 422.5,788.8 420,800ZM225,721.2 221.2,728.8 232.5,735 233.8,775 232.5,788.8 205,793.8 200,797.5 195,805 197.5,815 212.5,819.5 236.2,812.5 252.5,825 236.2,822.5 222.5,823.8 220,835 233.8,841.2 236.2,850 225,866.2 240,885 247.5,910 265,925 291.2,940 303.8,972.5 297.5,1000 290,1007.5 303.8,1022.5 322.5,1040 331.2,1055 333.8,1068.8 327.5,1071.2 323.8,1057.5 300,1027.5 296.2,1036.2 287.5,1107.5 285.5,1131.2 291.2,1125 300,1131.2 301.2,1137.5 284.5,1139.5 282.5,1145 261.2,1250 252.5,1270 250,1271.9 252.5,1271.2 282.5,1270 286.2,1273.8 320,1268.8 340,1271.2 345,1270 375,1268.8 361.2,1265 367.5,1247.5 367.5,1230 383.8,1223.8 385,1228.8 388.8,1228.8 388.8,1222.5 392.5,1218.8 396.2,1206.2 375,1200 377.5,1192.5 383.8,1186.2 381.2,1180 386.2,1176.2 388.8,1157.5 397.5,1140 400,1132.5 411.2,1127.5 414.2,1121.6 413.8,1120 414.4,1119.4 412.5,1117.5 405,1122.5 388.8,1118.8 392.5,1105 395,1087.5 387.5,1085 390,1075 367.5,1060 371.2,1040 358.8,1022.5 356.2,1007.5 367.5,1003.8 381.2,1002.5 385,983.8 377.5,972.5 357.5,965 337.5,952.5 333.8,940 352.5,935 346.2,925 348.8,902.5 327.5,861.2 320,856.2 306.2,850 300,841.2 303.8,832.5 295,817.5 326.2,810 325,800 311.2,795 307.5,788.8 317.5,786.2 308.8,780 302.5,761.2 311.2,741.2 320,733.8 317.5,705 318.8,676.2 308.8,673.8 302.5,677.5 290,675 280,660.5 257.5,660 257.5,652 238.8,657.5 252.5,671.2 248.8,696.2 228.8,706.2 220,716.2ZM268.8,943.8 277.5,947.5 287.5,953.8 288,957 280,953 270,947.5ZM278.8,972.5 285,975 290,980 292.5,992.5 287.5,987.5 280,977.5ZM213.8,849.5 217,850.8 218.5,856 215.5,854.5Z"/><use href="#d971"/><use href="#d971b"/><use href="#d971c"/><use href="#d972"/><use href="#d973"/><use href="#d974"/><use href="#d976"/></g>
<g clip-path="url(#landclip)" fill="none" stroke="#fff" stroke-linejoin="round" stroke-linecap="round"><use href="#thin" stroke-width="1.3"/><use href="#thick" stroke-width="3.8"/></g>
<use href="#land" fill="none" stroke="#fff" stroke-width="2.2" stroke-linejoin="round"/>
</g>
<g transform="translate(1205,0)">
<use href="#water" fill="#e9e9e9"/>
<g fill="#b2b2b2"><use href="#land"/><use href="#d971"/><use href="#d971b"/><use href="#d971c"/><use href="#d972"/></g>
<g filter="url(#sh2)" fill="#e63a20"><path d="M1016.2,1351.2 1010,1350 1022.5,1360 1011.2,1366.2 1013.8,1375 1027.5,1385 1025,1393.8 1018.8,1401.2 1032.5,1410 1030,1425 1047.5,1430 1037.5,1447.5 1076.2,1467.5 1090,1422.5 1087.5,1407.5 1098.8,1372.5 1097.5,1350 1092.5,1322.5 1083.8,1308.8 1086.2,1295 1080,1271.2 1075,1271.2 1076.2,1300 1073.8,1308.8 1062.5,1303.8 1052.5,1306.2 1040,1317.5 1018.8,1332.5 1013.8,1342.5 1016.2,1348.8 1015.6,1348.9ZM966.2,609.5 958,626.2 967.5,632.5 968.8,641.2 976.2,637.5 987.5,645 982.5,653.8 985,660 977.5,672.5 970,675 971.2,692.5 978.8,698.8 973.8,715 963.8,737.5 958,758.8 972.5,771.2 973.8,782.5 978.8,793.8 986.2,796.2 987.5,801.2 1003.8,800 1015,785 1010,765 1015,736.2 1010,718.8 1013.8,710 1017.5,710 1025,687.5 1028.8,660 1042.5,640 1055,616.2 1032.5,607.5 1010,610.5 1003.8,622 995,620 985,622 968.8,615ZM126.2,643.8 117.5,643.8 123.8,702.5 106.2,705 112.5,725 128.8,729.5 117.5,751.2 161.2,777.5 162.5,771.2 185,775 172.5,786.2 175,786 175,785 177.9,785.9 183.8,785.5 205,793.8 200,797.5 195,805 197.5,815 212.5,819.5 236.2,812.5 252.5,825 236.2,822.5 222.5,823.8 220,835 233.8,841.2 236.2,850 225,866.2 240,885 247.5,910 265,925 291.2,940 303.8,972.5 297.5,1000 290,1007.5 303.8,1022.5 322.5,1040 331.2,1055 333.8,1068.8 327.5,1071.2 323.8,1057.5 300,1027.5 296.2,1036.2 287.5,1107.5 285.5,1131.2 291.2,1125 300,1131.2 301.2,1137.5 284.5,1139.5 282.5,1145 261.2,1250 252.5,1270 230,1288.8 262.5,1305 256.2,1320 257.5,1325 280,1335 318.8,1341.2 332.5,1361.2 351.2,1348.8 383.8,1292.5 374.1,1266.3 375,1265.8 383.8,1278.8 395,1283.8 397.5,1292.5 410,1297.5 441.7,1304.6 423.8,1322.5 437.5,1346.2 431.2,1357.5 422.5,1358.8 422.5,1375.5 438.8,1375 438.8,1358.8 441,1358.9 441.2,1357.5 475,1370 486.2,1375 502.5,1377.5 510,1385 530,1391.2 537.5,1395 536.2,1401.2 553.8,1410 557.5,1418.8 568.2,1416.8 570,1415 582.5,1412.5 595.6,1420 600,1421.2 607.9,1421.7 612.5,1421.2 615,1416.2 642.5,1406.2 656.2,1410 656.2,1403.8 648.8,1390 648.8,1360 655,1332.5 665,1318.8 680,1311.2 692.5,1307.5 705,1295 720,1283.8 730,1277.5 742.5,1278.8 745,1286.2 765,1288.8 783.8,1292.5 786.2,1298.8 805,1300 812.5,1292.5 822.5,1290 818.8,1279.5 828.8,1278.8 832.5,1283.8 842.5,1285 835,1292.5 826.2,1295 825,1300 843.8,1298.8 853.8,1302.5 855,1311.2 881.2,1316.2 896.2,1328.8 910,1326.2 922.5,1330 940,1323.8 965,1313.8 966.2,1305 960,1301.2 966.2,1292.5 972.5,1285 985,1280 986.2,1270 1002.5,1266.2 1003.8,1256.2 1021.2,1242.5 1035,1237.5 1036.2,1227.5 1043.8,1220 1050,1203.8 1046.2,1195 1026.2,1201.2 990,1186.2 980,1175 982.5,1165 976.2,1153.8 981.2,1140 990,1132.5 986.2,1115 966.2,1107.5 963.8,1096.2 955,1083.8 973.8,1077.5 982.5,1071.2 995,1067.5 996.2,1046.2 982.5,1035 980,1030 980,1015 966.2,1006.2 961.2,1006.2 963.8,996.2 977.5,992.5 981.2,985 970,963.8 960,958.8 965,942.5 960,932 937.5,931.2 927.5,936.2 918.8,938.8 920,950 905,961.2 890,965 895,952.5 902.5,943.8 906.2,936.2 902.5,933.8 885,946.2 875,948.8 862.5,942.5 855,947.5 847.5,943.8 838.8,928.8 832.5,928.8 826.2,923.8 807.5,923.8 791.2,962.5 785,948.8 773.8,950 762.5,946.2 762.5,965 753.8,971.2 750.5,980 758.8,998.8 761,1018.1 770,1030 769.5,1031.4 778.8,1035 787.5,1036.2 783.8,1046.2 793.8,1047.5 798.4,1064.9 798,1065.1 793.8,1058.8 786.2,1062.5 782.5,1071.2 771.2,1077.5 767.5,1071.2 760,1070 757.5,1060 743.8,1057.5 733.8,1063 721.2,1061.2 702.5,1060 698.8,1063.8 688.8,1056.2 675,1054.5 652.5,1065 663.8,1073.8 668.8,1082.5 672.6,1111 665,1112.5 656.2,1116.2 650,1127.5 643.8,1145 651.2,1157.5 655,1170 658.8,1185 656.2,1188.8 666.2,1198.8 673.8,1201.2 675,1205 671.2,1215 682.5,1222.5 676.2,1235 668.8,1237.5 666.2,1246.2 650,1247.5 650,1257.5 638.8,1265 636.2,1257.5 630,1255 622.5,1256.2 612.5,1247.5 602.5,1225 593.8,1213.8 572.5,1203 556.2,1203.8 551.2,1200 555,1192.5 548.8,1187.5 550,1181.2 546.2,1170 548.8,1166.2 575,1147.5 566.2,1107.5 567.5,1106.2 543.8,1111.2 527.5,1100 516.2,1101.2 513.7,1103.7 512.5,1102.5 506.2,1090 496.2,1081.2 496.2,1067.5 500,1057.5 498.8,1048.8 517.5,1037 535,1030 551.2,1020 552,1011.2 541.2,1002.5 536.2,1006.2 528.8,996.2 522.5,992.5 525.5,986.2 517.5,963.8 511.2,956.2 516.2,938.8 494,933.6 490,922.5 470,907.5 473.8,893.8 478.8,891.2 481.2,872.5 486.2,862.5 503.8,858.8 510,848.8 502.5,829 491.2,831.2 486.2,792.5 478.8,787.5 471.2,790 468.8,780 456.2,777.5 440.5,783.9 440.3,783.5 462.5,765 470,748.8 467.5,737.5 472.5,728.8 467.5,716.2 448.8,710 436.2,700 434.5,685.5 420,685.5 412.5,691.2 402,694.5 391.2,674.5 370,680 347.5,687 337.5,677.5 318.8,676.2 308.8,673.8 302.5,677.5 290,675 280,660.5 257.5,660 257.5,652 238.8,657.5 232.5,662.5 223.8,652.5 213.8,655 191.2,668.8 161.2,625 125,629.5ZM788.8,1185 794.7,1199.7 787.5,1192.5ZM371.2,1040 358.8,1022.5 356.2,1007.5 367.5,1003.8 381.2,1002.5 385,983.8 395,972.5 410,968.8 412.5,965 432.5,975 435,966.2 442.5,972.5 462.5,966.2 463.8,975 471.2,980 471.2,990 463.8,992.5 462.5,1000 435,1032.5 422.5,1043.8 411.2,1052.5 415,1065 405,1072.5 390,1075 367.5,1060ZM395,1087.5 387.5,1085 390,1075ZM972.5,817.5 960,815 970,807.5 967.5,803.8 965,803.8 960,790.5 945,790.5 928.8,800 921.2,796.2 910,805 900,815 865,828.8 875,842.5 871.2,857.5 883.8,861.2 895,876.2 909.5,887 898.8,900 898.8,908.8 901.2,911.2 910,905 927.5,887.5 927.5,867.5 940,860 955,845 963.8,832.5ZM316.2,637.5 325,642.5 337.5,646.2 357.5,638 380,636.2 403.8,638.8 415,630 425,627.5 441.2,625 441.2,633.8 457.5,638.8 465,647.5 471.2,661.2 492.5,652.5 512.5,649 515,637.5 526,631 524,616 538.8,615 576.2,623.8 582.5,633.8 578.8,641.2 580,648.8 586.2,653.8 576.2,655 567.5,666.2 570,671.2 567.5,680 562.5,681.2 560.1,688.5 565,707.5 557.5,732.5 537.5,736.2 527.5,743.8 531.2,760 531.2,775 541.2,776.2 543.8,786.2 551.2,786.2 551.2,781.2 581.2,785 585,787.5 597.5,791.2 615,800 620,805 623.8,801.2 632.5,803.8 633.8,797.5 642.5,796.2 641.2,786.2 635,776.2 645,770 646.2,757.5 652.5,748.8 642.4,726 646.2,715 643.8,711.2 648.8,702.5 676,697.3 675,691.2 681.2,686.2 680,678.8 688.8,672.5 681.2,668.8 680,657.5 676.2,653.8 680,650 681.2,642.5 670,632.5 652,612 623.8,616.8 612.5,616.2 612.5,613.8 590,603.8 586.2,606.2 570,601.2 555,604.5 544.5,598.8 545,592.5 551,591 545.5,577.5 542.8,574.2 521.2,568.8 488.8,591.2 477.5,584.5 483.8,582 481.2,576.2 465,572.5 447.5,565 434.1,573 433.8,572 405,583.8 391.2,587.5 377.5,578.8 355,576.2 327.5,572 322.5,577.5 323.8,585 336.2,593.8 338.8,607.5 332.5,622.5ZM582.6,641.6 585.4,639.6 590.2,637.7 596.3,637.5 598.6,641.2 598.2,645.9 590,646.1ZM268.8,943.8 277.5,947.5 287.5,953.8 288,957 280,953 270,947.5ZM278.8,972.5 285,975 290,980 292.5,992.5 287.5,987.5 280,977.5ZM213.8,849.5 217,850.8 218.5,856 215.5,854.5Z"/><use href="#d973"/><use href="#d974"/><use href="#d976"/></g>
<g clip-path="url(#landclip)" fill="none" stroke="#fff" stroke-linejoin="round" stroke-linecap="round"><use href="#thin" stroke-width="1.3"/><use href="#thick" stroke-width="3.8"/></g>
<use href="#land" fill="none" stroke="#fff" stroke-width="2.2" stroke-linejoin="round"/>
</g>
<g transform="translate(2411,1)">
<use href="#water" fill="#e9e9e9"/>
<g fill="#b2b2b2"><use href="#land"/><use href="#d971"/><use href="#d971b"/><use href="#d971c"/><use href="#d972"/></g>
<g filter="url(#sh2)" fill="#e63a20"><path d="M1016.2,1351.2 1010,1350 1022.5,1360 1011.2,1366.2 1013.8,1375 1027.5,1385 1025,1393.8 1018.8,1401.2 1032.5,1410 1030,1425 1047.5,1430 1037.5,1447.5 1076.2,1467.5 1090,1422.5 1087.5,1407.5 1098.8,1372.5 1097.5,1350 1092.5,1322.5 1083.8,1308.8 1086.2,1295 1080,1271.2 1075,1271.2 1076.2,1300 1073.8,1308.8 1062.5,1303.8 1052.5,1306.2 1040,1317.5 1018.8,1332.5 1013.8,1342.5 1016.2,1348.8 1015.6,1348.9ZM125,629.5 126.2,643.8 117.5,643.8 123.8,702.5 106.2,705 112.5,725 128.8,729.5 117.5,751.2 161.2,777.5 162.5,771.2 185,775 172.5,786.2 175,786 175,785 177.9,785.9 183.8,785.5 205,793.8 200,797.5 195,805 197.5,815 212.5,819.5 236.2,812.5 252.5,825 236.2,822.5 222.5,823.8 220,835 233.8,841.2 236.2,850 225,866.2 240,885 247.5,910 265,925 291.2,940 303.8,972.5 297.5,1000 290,1007.5 303.8,1022.5 322.5,1040 331.2,1055 333.8,1068.8 327.5,1071.2 323.8,1057.5 300,1027.5 296.2,1036.2 287.5,1107.5 285.5,1131.2 291.2,1125 300,1131.2 301.2,1137.5 284.5,1139.5 282.5,1145 261.2,1250 252.5,1270 230,1288.8 262.5,1305 256.2,1320 257.5,1325 280,1335 318.8,1341.2 332.5,1361.2 351.2,1348.8 383.8,1292.5 374.1,1266.3 375,1265.8 383.8,1278.8 395,1283.8 397.5,1292.5 410,1297.5 441.7,1304.6 423.8,1322.5 437.5,1346.2 431.2,1357.5 422.5,1358.8 422.5,1375.5 438.8,1375 438.8,1358.8 441,1358.9 441.2,1357.5 445.6,1359.2 457.5,1360 455,1353.8 466.2,1346.2 471.2,1330 486.2,1325 491.2,1328.8 493.8,1320 501.2,1317.5 498.8,1312.5 501.2,1308.8 510,1315 513.8,1311.2 528.1,1307.5 533.8,1322.5 552.5,1331.2 555,1350 547.5,1365 552.5,1373.8 563.8,1375 572.5,1383.8 557.5,1387.5 537.3,1395.7 536.2,1401.2 553.8,1410 557.5,1418.8 568.2,1416.8 570,1415 582.5,1412.5 595.6,1420 600,1421.2 607.9,1421.7 612.5,1421.2 615,1416.2 642.5,1406.2 656.2,1410 656.2,1403.8 648.8,1390 648.8,1360 655,1332.5 665,1318.8 680,1311.2 692.5,1307.5 705,1295 720,1283.8 730,1277.5 742.5,1278.8 745,1285 751.2,1286.2 756.2,1280 768.8,1271.2 775,1262.5 786.2,1256.2 788.8,1245 803.8,1223.8 793.8,1212.5 794.5,1205.7 793.9,1198.9 787.5,1192.5 788.8,1185 800,1187.5 803.8,1194.5 831.2,1185 832.5,1193.8 850,1197.5 862.5,1207.5 863.8,1222.5 868.8,1232.5 867.5,1241.2 875,1242.5 885,1252.5 887.5,1257.5 880,1260 881.2,1275 886.2,1288.8 882.5,1296.2 887.5,1302.5 881.2,1316.2 896.2,1328.8 910,1326.2 922.5,1330 940,1323.8 965,1313.8 966.2,1305 960,1301.2 966.2,1292.5 972.5,1285 985,1280 986.2,1270 985,1263.8 976.2,1262.5 971.2,1248.8 963.8,1241.2 965,1232.5 975,1228.8 983.8,1227.5 973.8,1217.5 962.5,1195 971.2,1182.5 980,1175 982.5,1165 976.2,1153.8 981.2,1140 990,1132.5 986.2,1115 966.2,1107.5 963.8,1096.2 955,1083.8 973.8,1077.5 982.5,1071.2 995,1067.5 996.2,1046.2 982.5,1035 980,1030 980,1015 966.2,1006.2 961.2,1006.2 963.8,996.2 977.5,992.5 981.2,985 970,963.8 960,958.8 965,942.5 960,932 937.5,931.2 927.5,936.2 918.8,938.8 920,950 905,961.2 890,965 895,952.5 902.5,943.8 906.2,936.2 902.5,933.8 885,946.2 875,948.8 862.5,942.5 855,947.5 847.5,943.8 838.8,928.8 832.5,928.8 826.2,923.8 807.5,923.8 791.2,962.5 785,948.8 773.8,950 762.5,946.2 762.5,965 753.8,971.2 750.5,980 758.8,998.8 761,1018.1 770,1030 769.5,1031.4 778.8,1035 787.5,1036.2 783.8,1046.2 793.8,1047.5 798.4,1064.9 798,1065.1 793.8,1058.8 786.2,1062.5 782.5,1071.2 771.2,1077.5 768.8,1087.5 762.5,1088.8 762.5,1098.8 756.2,1102.5 755,1108.8 743.8,1117.5 735,1121.2 720,1133.8 717.5,1135 723.8,1153.8 731.6,1174 727.5,1170 723.8,1177.5 728.8,1202.5 717.5,1208.8 702.5,1203.8 700,1208.8 675,1205 671.2,1215 682.5,1222.5 676.2,1235 668.8,1237.5 666.2,1246.2 650,1247.5 650,1257.5 638.8,1265 636.2,1257.5 630,1255 622.5,1256.2 612.5,1247.5 602.5,1225 593.8,1213.8 572.5,1203 556.2,1203.8 551.2,1200 555,1192.5 548.8,1187.5 550,1181.2 521.2,1190 518.8,1195 515,1191.2 505,1196.2 480,1176.2 480,1177.5 463.8,1180 462.5,1186.2 467.5,1190 463.8,1200 450,1215 442.5,1215 436.2,1212.5 392.5,1222.5 388.8,1228.8 388.8,1223.3 387.7,1223.6 392.5,1218.8 396.2,1206.2 375,1200 377.5,1192.5 383.8,1186.2 381.2,1180 386.2,1176.2 388.8,1157.5 397.5,1140 400,1132.5 411.2,1127.5 414.2,1121.6 413.8,1120 414.4,1119.4 412.5,1117.5 405,1122.5 388.8,1118.8 392.5,1105 395,1087.5 387.5,1085 390,1075 367.5,1060 371.2,1040 358.8,1022.5 356.2,1007.5 367.5,1003.8 381.2,1002.5 385,983.8 377.5,972.5 357.5,965 337.5,952.5 333.8,940 352.5,935 346.2,925 348.8,902.5 327.5,861.2 330,861.2 350,856.2 360,847.5 392.5,850 403.8,843.8 422.5,858.8 426.2,868.8 445,867.5 446.2,862.5 452.5,864.5 473.8,893.8 478.8,891.2 481.2,872.5 486.2,862.5 503.8,858.8 510,848.8 502.5,829 491.2,831.2 486.2,792.5 478.8,787.5 471.2,790 468.8,780 456.2,777.5 435,786.2 431.2,792.5 422.5,788.8 415,790 372.5,773.8 370,766.2 348.8,770 325,763 301.9,762.5 311.2,741.2 320,733.8 317.5,705 318.8,676.2 308.8,673.8 302.5,677.5 290,675 280,660.5 257.5,660 257.5,652 238.8,657.5 232.5,662.5 223.8,652.5 213.8,655 191.2,668.8 161.2,625ZM816.2,1170 823,1177.5 816.2,1185 807,1185 810,1172.5ZM537.8,615.1 576.2,623.8 582.5,633.8 578.8,641.2 580,648.8 586.2,653.8 576.2,655 567.5,666.2 570,671.2 567.5,680 562.5,681.2 560.1,688.5 565,707.5 563.8,710.5 597,707 599.5,713 607,718 608.8,725.5 642.5,725.8 646.2,715 643.8,711.2 648.8,702.5 676,697.3 675,691.2 681.2,686.2 680,678.8 688.8,672.5 681.2,668.8 680,657.5 676.2,653.8 680,650 681.2,642.5 670,632.5 652,612 623.8,616.8 612.5,616.2 612.5,613.8 590,603.8 586.2,606.2 570,601.2 555,604.5 544.5,598.8 545,592.5 551,591 545.5,577.5 542.8,574.2 521.2,568.8 488.8,591.2 477.5,584.5 483.8,582 481.2,576.2 465,572.5 447.5,565 435,572.5 441.2,625 441.2,633.8 457.5,638.8 465,647.5 471.2,661.2 492.5,652.5 512.5,649 515,637.5 526,631 523.8,616.2ZM585.4,639.6 590.2,637.7 596.3,637.5 598.6,641.2 598.2,645.9 590,646.1 582.6,641.6ZM268.8,943.8 277.5,947.5 287.5,953.8 288,957 280,953 270,947.5ZM278.8,972.5 285,975 290,980 292.5,992.5 287.5,987.5 280,977.5ZM213.8,849.5 217,850.8 218.5,856 215.5,854.5Z"/><use href="#d973"/><use href="#d974"/><use href="#d976"/></g>
<g clip-path="url(#landclip)" fill="none" stroke="#fff" stroke-linejoin="round" stroke-linecap="round"><use href="#thin" stroke-width="1.3"/><use href="#thick" stroke-width="3.8"/></g>
<use href="#land" fill="none" stroke="#fff" stroke-width="2.2" stroke-linejoin="round"/>
</g>
<path d="M223.2,1199.0V1209.0M223.2,1225.0V1243.8M223.2,1260.0V1278.8M223.2,1295.0V1313.8M223.2,1330.0V1348.8M223.2,1365.0V1383.8M223.2,1400.0V1418.8M223.2,1436.0V1449.0M215.0,1200.0H225.2M181.2,1200.0H198.8M148.8,1200.0H165.0M116.2,1200.0H132.5M520.0,1280.0H533.8M550.0,1280.0H566.2M583.8,1280.0H600.0M616.2,1280.0H632.5M648.8,1280.0H659.0M657.0,1279.0V1286.0M657.0,1303.8V1321.2M657.0,1336.2V1353.8M657.0,1370.0V1387.5M657.0,1405.0V1422.5M657.0,1436.0V1449.0M1422.0,1198.2V1218.8M1422.0,1235.0V1251.2M1422.0,1267.5V1285.0M1422.0,1301.2V1318.8M1422.0,1335.0V1352.5M1422.0,1368.8V1386.2M1422.0,1402.5V1418.8M1422.0,1435.0V1449.0M1420.0,1200.0H1424.0M1391.2,1200.0H1407.5M1357.5,1200.0H1373.8M1323.8,1200.0H1340.0M1298.0,1200.0H1306.2M2228.0,1403.0H2235.6M2196.5,1403.0H2214.8M2162.2,1403.0H2180.0M2134.5,1403.0H2144.8M2136.5,1401.0V1411.9M2136.5,1436.2V1449.0M2495.0,1429.0H2505.6M2522.2,1429.0H2538.8M2555.2,1429.0H2571.9M2587.5,1429.0H2605.0M2620.0,1429.0H2631.0M2629.0,1427.0V1449.0M3323.1,1007.2V1024.5M3323.1,1040.3V1057.6M3323.1,1073.5V1090.8M3323.1,1106.5V1123.8M3323.1,1139.7V1157.0M3323.1,1172.8V1190.0M3323.1,1205.8V1223.1M3323.1,1239.0V1256.2M3323.1,1272.0V1289.3M3323.1,1305.2V1322.5M3323.1,1338.2V1355.5M3323.1,1371.3V1388.6M3323.1,1404.5V1421.8M3323.1,1437.5V1449.0" fill="none" stroke="#333" stroke-width="3.8"/>
<circle cx="88" cy="1198.75" r="15" fill="#333"/>
<circle cx="508.75" cy="1280" r="14.7" fill="#333"/>
<circle cx="1287.5" cy="1199.25" r="15" fill="#333"/>
<circle cx="2250" cy="1404" r="15" fill="#333"/>
<circle cx="2484" cy="1429" r="15" fill="#333"/>
<circle cx="3322.5" cy="983.4" r="15.2" fill="#333"/>
<rect x="94.7" y="1450.6" width="371.4" height="99.0" rx="1.5" fill="#fff" stroke="#e8571e" stroke-width="6.8"/>
<rect x="512.4" y="1450.6" width="517.2" height="99.0" rx="1.5" fill="#fff" stroke="#e8571e" stroke-width="6.8"/>
<rect x="1301.4" y="1450.6" width="365.2" height="99.0" rx="1.5" fill="#fff" stroke="#e8571e" stroke-width="6.8"/>
<rect x="1721.4" y="1450.6" width="498.2" height="99.0" rx="1.5" fill="#fff" stroke="#e8571e" stroke-width="6.8"/>
<rect x="2517.4" y="1450.6" width="382.7" height="99.0" rx="1.5" fill="#fff" stroke="#e8571e" stroke-width="6.8"/>
<rect x="2946.2" y="1450.6" width="490.8" height="99.0" rx="1.5" fill="#fff" stroke="#e8571e" stroke-width="6.8"/>
<rect x="1616.2" y="1630.8" width="123.0" height="54.5" rx="1.5" fill="#fff" stroke="#e8571e" stroke-width="6.4"/>
<polygon points="55.6,1590.0 58.8,1591.9 70.0,1606.9 81.2,1622.5 88.8,1640.0 91.2,1641.9 103.8,1646.2 105.0,1636.2 113.1,1636.0 128.1,1645.0 128.8,1651.2 125.0,1656.2 125.0,1671.2 133.1,1676.2 133.5,1680.0 131.9,1690.0 135.6,1693.1 141.9,1692.5 144.8,1706.2 132.5,1709.4 128.8,1710.6 115.0,1712.5 98.1,1727.8 72.5,1720.0 71.9,1690.0 68.8,1684.0 61.2,1688.5 42.5,1686.2 46.2,1680.0 41.9,1660.6 35.6,1661.9 29.8,1654.0 11.9,1658.8 8.1,1641.2 18.8,1633.5 11.5,1626.2 30.0,1620.6 39.4,1610.6 37.2,1600.6 43.1,1602.5 51.9,1598.1 52.5,1593.1" fill="#e63a20"/>
<path d="M1067.5,1249L970,1347" stroke="#cfcfcf" stroke-width="3.5" fill="none"/>
<path d="M2272.5,1249L2175,1347" stroke="#cfcfcf" stroke-width="3.5" fill="none"/>
<path d="M3478.5,1249L3381,1347" stroke="#cfcfcf" stroke-width="3.5" fill="none"/>
<text x="0.5" y="66.8" font-size="69" font-weight="bold" fill="#000" textLength="2482.1" lengthAdjust="spacingAndGlyphs" stroke="#000" stroke-width="0.9">Depuis les années 1990, les territoires en forte croissance démographique</text>
<text x="-0.3" y="142.1" font-size="69" font-weight="bold" fill="#000" textLength="1766.6" lengthAdjust="spacingAndGlyphs" stroke="#000" stroke-width="0.9">se concentrentsur la façade ouest et au sud du pays</text>
<text x="-1.0" y="233.5" font-size="65" fill="#000" textLength="1570.2" lengthAdjust="spacingAndGlyphs">Départements en forte croissance démographique</text>
<text x="146.9" y="361.0" font-size="63" fill="#000" textLength="179.4" lengthAdjust="spacingAndGlyphs">Période</text>
<text x="147.6" y="432.5" font-size="64" font-weight="bold" fill="#000" textLength="320.7" lengthAdjust="spacingAndGlyphs">1990 à 1999</text>
<text x="1353.7" y="361.0" font-size="63" fill="#000" textLength="179.2" lengthAdjust="spacingAndGlyphs">Période</text>
<text x="1354.4" y="432.5" font-size="64" font-weight="bold" fill="#000" textLength="319.6" lengthAdjust="spacingAndGlyphs">1999 à 2008</text>
<text x="2557.6" y="361.0" font-size="63" fill="#000" textLength="180.5" lengthAdjust="spacingAndGlyphs">Période</text>
<text x="2558.2" y="432.5" font-size="64" font-weight="bold" fill="#000" textLength="320.9" lengthAdjust="spacingAndGlyphs">2008 à 2013</text>
<text x="242.5" y="1434.6" font-size="49.5" fill="#e8571e" textLength="117.6" lengthAdjust="spacingAndGlyphs">DROM</text>
<text x="1447.5" y="1434.6" font-size="49.5" fill="#e8571e" textLength="117.6" lengthAdjust="spacingAndGlyphs">DROM</text>
<text x="2661.4" y="1434.6" font-size="49.5" fill="#e8571e" textLength="117.7" lengthAdjust="spacingAndGlyphs">DROM</text>
<text x="685.1" y="1434.6" font-size="49.5" fill="#e8571e" textLength="185.9" lengthAdjust="spacingAndGlyphs">Métropole</text>
<text x="1934.6" y="1434.6" font-size="49.5" fill="#e8571e" textLength="186.4" lengthAdjust="spacingAndGlyphs">Métropole</text>
<text x="3123.1" y="1434.6" font-size="49.5" fill="#e8571e" textLength="186.5" lengthAdjust="spacingAndGlyphs">Métropole</text>
<text x="109.6" y="1520.0" font-size="58.5" fill="#000" textLength="184.4" lengthAdjust="spacingAndGlyphs">Guyane :</text>
<text x="302.5" y="1520.0" font-size="67" font-weight="bold" fill="#000" textLength="148.5" lengthAdjust="spacingAndGlyphs">3,6 %</text>
<text x="518.2" y="1520.0" font-size="58.5" fill="#000" textLength="344.9" lengthAdjust="spacingAndGlyphs">Haute-Garonne :</text>
<text x="872.8" y="1520.0" font-size="67" font-weight="bold" fill="#000" textLength="149.3" lengthAdjust="spacingAndGlyphs">1,4 %</text>
<text x="1315.2" y="1520.0" font-size="58.5" fill="#000" textLength="184.4" lengthAdjust="spacingAndGlyphs">Guyane :</text>
<text x="1509.3" y="1520.0" font-size="67" font-weight="bold" fill="#000" textLength="148.3" lengthAdjust="spacingAndGlyphs">3,8 %</text>
<text x="1735.1" y="1520.0" font-size="58.5" fill="#000" textLength="316.5" lengthAdjust="spacingAndGlyphs">Corse-de-Sud :</text>
<text x="2061.8" y="1520.0" font-size="67" font-weight="bold" fill="#000" textLength="149.8" lengthAdjust="spacingAndGlyphs">1,9 %</text>
<text x="2529.1" y="1520.0" font-size="58.5" fill="#000" textLength="195.7" lengthAdjust="spacingAndGlyphs">Mayotte :</text>
<text x="2734.6" y="1520.0" font-size="67" font-weight="bold" fill="#000" textLength="148.6" lengthAdjust="spacingAndGlyphs">2,7 %</text>
<text x="2957.9" y="1520.0" font-size="58.5" fill="#000" textLength="304.0" lengthAdjust="spacingAndGlyphs">Haute-Savoie :</text>
<text x="3270.9" y="1520.0" font-size="67" font-weight="bold" fill="#000" textLength="150.8" lengthAdjust="spacingAndGlyphs">1,5 %</text>
<text x="202.1" y="1647.5" font-size="57" fill="#000" textLength="1126.9" lengthAdjust="spacingAndGlyphs">Départements dont le taux d’évolution de la population</text>
<text x="202.9" y="1705.6" font-size="57" fill="#000" textLength="1085.1" lengthAdjust="spacingAndGlyphs">pour la période donnée est supérieur à 0,5 % par an</text>
<text x="1786.8" y="1676.0" font-size="57" fill="#000" textLength="768.3" lengthAdjust="spacingAndGlyphs">Valeur extrême de la série temporelle</text>
<text x="1.0" y="1848.0" font-size="47" font-weight="bold" fill="#000" textLength="220.6" lengthAdjust="spacingAndGlyphs">Sources :</text>
<text x="233.1" y="1848.0" font-size="47" fill="#000" textLength="1142.6" lengthAdjust="spacingAndGlyphs">Insee, RP 1990-1999-2008-2013 ; IGN GéoFla, 2015</text>
<circle cx="1400" cy="1837.5" r="5.3" fill="#000"/>
<text x="1423.1" y="1848.0" font-size="47" font-weight="bold" fill="#000" textLength="289.5" lengthAdjust="spacingAndGlyphs">Réalisation :</text>
<text x="1724.0" y="1848.0" font-size="47" fill="#000" textLength="253.2" lengthAdjust="spacingAndGlyphs">CGET, 2017</text>
</svg></body></html>
